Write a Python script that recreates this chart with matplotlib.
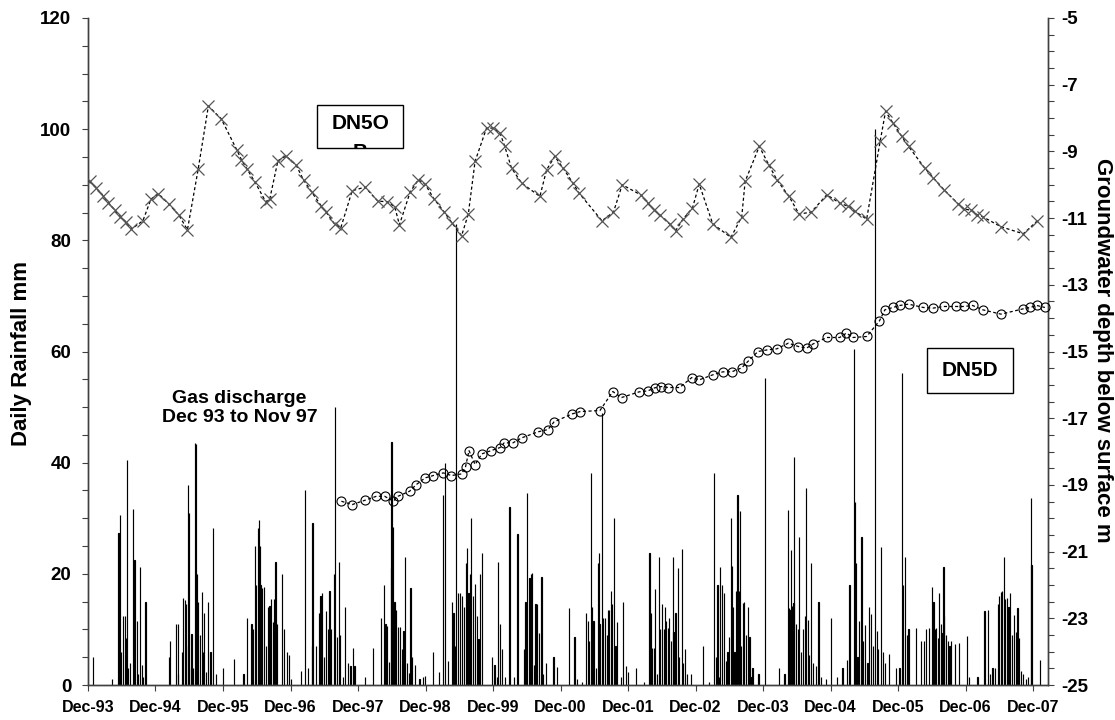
import matplotlib
matplotlib.use("Agg")
import matplotlib.pyplot as plt
from matplotlib.patches import Rectangle
from matplotlib.transforms import Bbox, TransformedBbox
from matplotlib.ticker import MultipleLocator, FixedLocator

plt.rcParams['font.family'] = ['Liberation Sans', 'DejaVu Sans']
plt.rcParams['font.weight'] = 'bold'
plt.rcParams['axes.unicode_minus'] = False

# ---------------- data ----------------
tick_labels = ['Dec-93', 'Dec-94', 'Dec-95', 'Dec-96', 'Dec-97', 'Dec-98', 'Dec-99',
               'Dec-00', 'Dec-01', 'Dec-02', 'Dec-03', 'Dec-04', 'Dec-05', 'Dec-06', 'Dec-07']
depth_ticks = [-25, -23, -21, -19, -17, -15, -13, -11, -9, -7, -5]

# DN5OB groundwater depth (m below surface), x = decimal year
dn5ob_year = [1993.94, 1994.04, 1994.14, 1994.22, 1994.31, 1994.39, 1994.48, 1994.56, 1994.73, 1994.85,
              1994.96, 1995.11, 1995.26, 1995.39, 1995.55, 1995.70, 1995.89, 1996.12, 1996.19, 1996.27,
              1996.39, 1996.55, 1996.61, 1996.73, 1996.85, 1997.00, 1997.11, 1997.23, 1997.37, 1997.44,
              1997.57, 1997.66, 1997.83, 1998.02, 1998.21, 1998.35, 1998.46, 1998.53, 1998.69, 1998.81,
              1998.91, 1999.04, 1999.19, 1999.31, 1999.45, 1999.55, 1999.65, 1999.82, 1999.92, 2000.02,
              2000.09, 2000.19, 2000.34, 2000.61, 2000.71, 2000.83, 2000.95, 2001.10, 2001.19, 2001.53,
              2001.70, 2001.83, 2002.11, 2002.21, 2002.30, 2002.39, 2002.53, 2002.62, 2002.73, 2002.87,
              2002.97, 2003.17, 2003.44, 2003.60, 2003.65, 2003.86, 2004.00, 2004.12, 2004.30, 2004.45,
              2004.63, 2004.86, 2005.05, 2005.18, 2005.28, 2005.45, 2005.65, 2005.73, 2005.84, 2005.97,
              2006.07, 2006.31, 2006.44, 2006.60, 2006.81, 2006.89, 2007.00, 2007.09, 2007.17, 2007.44,
              2007.77, 2007.98]
dn5ob_depth = [-9.90, -10.10, -10.33, -10.54, -10.75, -10.96, -11.11, -11.33, -11.08, -10.43,
               -10.27, -10.57, -10.90, -11.35, -9.52, -7.64, -8.02, -8.95, -9.25, -9.52,
               -9.92, -10.51, -10.42, -9.28, -9.14, -9.41, -9.86, -10.22, -10.63, -10.81,
               -11.18, -11.30, -10.18, -10.07, -10.49, -10.51, -10.66, -11.20, -10.21, -9.85,
               -9.98, -10.42, -10.81, -11.15, -11.53, -10.88, -9.30, -8.30, -8.30, -8.45,
               -8.85, -9.50, -9.95, -10.35, -9.55, -9.15, -9.49, -9.95, -10.25, -11.08,
               -10.82, -10.00, -10.31, -10.55, -10.75, -10.91, -11.17, -11.38, -11.03, -10.70,
               -9.98, -11.17, -11.58, -10.96, -9.90, -8.85, -9.40, -9.85, -10.35, -10.88,
               -10.82, -10.30, -10.55, -10.65, -10.80, -11.03, -8.70, -7.80, -8.15, -8.55,
               -8.85, -9.50, -9.80, -10.16, -10.58, -10.72, -10.77, -10.90, -10.96, -11.26,
               -11.47, -11.08]

# DN5D groundwater depth (m below surface)
dn5d_year = [1997.67, 1997.83, 1998.02, 1998.19, 1998.31, 1998.44, 1998.51, 1998.68, 1998.78, 1998.91,
             1999.03, 1999.18, 1999.30, 1999.45, 1999.51, 1999.56, 1999.65, 1999.75, 1999.89, 2000.02,
             2000.08, 2000.21, 2000.34, 2000.58, 2000.73, 2000.82, 2001.09, 2001.21, 2001.50, 2001.69,
             2001.82, 2002.08, 2002.21, 2002.31, 2002.41, 2002.51, 2002.68, 2002.86, 2002.97, 2003.17,
             2003.32, 2003.45, 2003.60, 2003.70, 2003.84, 2003.98, 2004.12, 2004.29, 2004.44, 2004.56,
             2004.65, 2004.86, 2005.05, 2005.15, 2005.25, 2005.45, 2005.64, 2005.72, 2005.84, 2005.94,
             2006.07, 2006.29, 2006.43, 2006.59, 2006.78, 2006.89, 2007.02, 2007.17, 2007.44, 2007.77,
             2007.87, 2007.97, 2008.09]
dn5d_depth = [-19.49, -19.59, -19.46, -19.34, -19.34, -19.49, -19.34, -19.19, -18.99, -18.79,
              -18.72, -18.64, -18.72, -18.67, -18.45, -17.97, -18.39, -18.07, -17.97, -17.88,
              -17.74, -17.74, -17.59, -17.41, -17.34, -17.11, -16.87, -16.80, -16.77, -16.20,
              -16.38, -16.21, -16.18, -16.09, -16.05, -16.08, -16.08, -15.78, -15.85, -15.70,
              -15.61, -15.61, -15.49, -15.28, -15.00, -14.95, -14.92, -14.75, -14.85, -14.90,
              -14.78, -14.58, -14.58, -14.45, -14.58, -14.55, -14.08, -13.75, -13.68, -13.62,
              -13.58, -13.68, -13.70, -13.65, -13.65, -13.65, -13.62, -13.75, -13.88, -13.72,
              -13.68, -13.62, -13.68]

# Daily rainfall (mm), x = decimal year of the rain day
rain_year = [
    1993.986, 1994.277, 1994.370, 1994.394, 1994.409, 1994.435, 1994.462, 1994.478, 1994.489, 1994.515,
    1994.542, 1994.579, 1994.594, 1994.607, 1994.637, 1994.663, 1994.690, 1994.715, 1994.737, 1994.768,
    1995.112, 1995.134, 1995.217, 1995.246, 1995.256, 1995.308, 1995.324, 1995.351, 1995.371, 1995.394,
    1995.404, 1995.414, 1995.441, 1995.451, 1995.468, 1995.499, 1995.520, 1995.533, 1995.546, 1995.573,
    1995.600, 1995.616, 1995.641, 1995.668, 1995.690, 1995.731, 1995.764, 1995.810, 1995.917, 1996.075,
    1996.219,
    1996.277, 1996.340, 1996.367, 1996.394, 1996.409, 1996.431, 1996.446, 1996.462, 1996.472, 1996.499,
    1996.526, 1996.552, 1996.579, 1996.604, 1996.631, 1996.657, 1996.674, 1996.694, 1996.711, 1996.788,
    1996.826, 1996.869, 1996.896, 1996.921,
    1997.069, 1997.133, 1997.172, 1997.229, 1997.243, 1997.293, 1997.334, 1997.361, 1997.388, 1997.414,
    1997.441, 1997.468, 1997.493, 1997.520, 1997.557, 1997.580, 1997.610, 1997.635, 1997.653, 1997.690,
    1997.727, 1997.769, 1997.806, 1997.838, 1997.863,
    1998.017, 1998.139, 1998.260, 1998.297, 1998.324, 1998.351, 1998.377, 1998.404, 1998.412, 1998.431,
    1998.456, 1998.483, 1998.509, 1998.536, 1998.563, 1998.589, 1998.613, 1998.641, 1998.668, 1998.694,
    1998.721, 1998.758, 1998.826, 1998.880, 1998.906,
    1999.028, 1999.118, 1999.176, 1999.203, 1999.250, 1999.303, 1999.330, 1999.357, 1999.367, 1999.394,
    1999.425, 1999.452, 1999.489, 1999.515, 1999.534, 1999.552, 1999.573, 1999.595, 1999.620, 1999.647,
    1999.674, 1999.700, 1999.727, 1999.751, 1999.900, 1999.937, 1999.974, 1999.995, 2000.017, 2000.044,
    2000.097, 2000.160, 2000.229, 2000.278,
    2000.377, 2000.398, 2000.414, 2000.456, 2000.478, 2000.497, 2000.520, 2000.546, 2000.573, 2000.600,
    2000.634, 2000.653, 2000.705, 2000.812, 2000.863, 2001.044, 2001.123, 2001.160, 2001.229, 2001.297,
    2001.320, 2001.334, 2001.363, 2001.388, 2001.404, 2001.441, 2001.468, 2001.481, 2001.493, 2001.527,
    2001.546, 2001.573, 2001.600, 2001.616, 2001.637, 2001.663, 2001.678, 2001.709, 2001.731, 2001.758,
    2001.812, 2001.838, 2001.890, 2001.917, 2002.038, 2002.155,
    2002.234, 2002.250, 2002.271, 2002.303, 2002.314, 2002.340, 2002.376, 2002.394, 2002.419, 2002.446,
    2002.462, 2002.483, 2002.505, 2002.526, 2002.552, 2002.576, 2002.589, 2002.620, 2002.657, 2002.674,
    2002.714, 2002.727, 2002.764, 2002.789, 2002.843, 2003.028, 2003.118,
    2003.195, 2003.213, 2003.240, 2003.266, 2003.280, 2003.308, 2003.334, 2003.361, 2003.388, 2003.409,
    2003.443, 2003.457, 2003.468, 2003.493, 2003.520, 2003.536, 2003.557, 2003.576, 2003.594, 2003.620,
    2003.637, 2003.663, 2003.690, 2003.715, 2003.731, 2003.758, 2003.849, 2003.946,
    2004.155, 2004.234, 2004.281, 2004.296, 2004.308, 2004.326, 2004.340, 2004.367, 2004.380, 2004.404,
    2004.431, 2004.444, 2004.472, 2004.509, 2004.536, 2004.555, 2004.579, 2004.600, 2004.628, 2004.653,
    2004.694, 2004.737, 2004.774, 2004.853, 2004.923, 2005.012, 2005.092, 2005.160, 2005.197,
    2005.265, 2005.277, 2005.293, 2005.314, 2005.340, 2005.374, 2005.394, 2005.425, 2005.462, 2005.489,
    2005.515, 2005.542, 2005.570, 2005.604, 2005.620, 2005.657, 2005.690, 2005.727, 2005.779, 2005.886,
    2005.937, 2005.976, 2005.991, 2006.017, 2006.044, 2006.071,
    2006.186, 2006.256, 2006.297, 2006.334, 2006.372, 2006.414, 2006.441, 2006.468, 2006.483, 2006.505,
    2006.521, 2006.546, 2006.573, 2006.588, 2006.600, 2006.626, 2006.653, 2006.678, 2006.705, 2006.758,
    2006.812, 2006.933, 2006.970, 2007.092,
    2007.197, 2007.250, 2007.277, 2007.314, 2007.351, 2007.394, 2007.409, 2007.435, 2007.456, 2007.481,
    2007.499, 2007.526, 2007.552, 2007.579, 2007.604, 2007.631, 2007.657, 2007.684, 2007.711, 2007.737,
    2007.764, 2007.816, 2007.843, 2007.881, 2007.892, 2008.017,
]
rain_mm = [
    5, 1, 27.3, 30.6, 6, 12.5, 12.5, 8.5, 40.5, 3,
    4, 31.7, 10.7, 22.5, 11.5, 2, 21.2, 3.6, 1.5, 15,
    5, 8, 11, 11, 2, 6, 15.7, 15.3, 14.5, 7,
    36, 31, 3, 9.2, 3, 43.5, 43.3, 20, 15, 9,
    16.8, 6, 13, 2.4, 15, 6, 28.2, 2, 3, 4.6,
    2,
    12, 11, 10, 25, 18, 28.3, 29.6, 25, 18, 17.5,
    17.7, 7, 14, 14.2, 15.5, 11.4, 15.5, 22.2, 11, 20,
    10, 6, 5.4, 1,
    2.5, 35.1, 3, 7, 29.2, 7, 13, 16, 16.5, 5,
    13.3, 10, 17, 10, 20, 50, 8.6, 22.2, 9, 1.5,
    14, 4, 3.5, 6.6, 3.5,
    1.5, 6.6, 12, 18, 11, 10.6, 4.2, 21, 43.8, 28.5,
    15, 13.5, 10.5, 10.5, 6.5, 9.7, 23.1, 4, 2.1, 17.5,
    5, 3.6, 1, 1.5, 1.7,
    6, 2.4, 34.1, 40, 4.3, 15, 13, 7, 83, 16.5,
    16.5, 16, 14, 22, 24.6, 16.5, 20, 30, 16, 18.2,
    12.4, 8.3, 20, 23.7, 5, 3.6, 1.5, 22.2, 10.9, 6.5,
    1.5, 32.1, 1.5, 27.2,
    6.5, 15, 34.5, 19.2, 20, 20.1, 3.6, 14.5, 14.5, 9.4,
    19.5, 2, 4, 5, 3.3, 13.8, 8.6, 1, 0.5, 13,
    11.5, 8, 38.1, 14, 11.5, 3, 22, 23.7, 11, 49,
    12, 12, 9, 13.5, 13.5, 17, 14.5, 30, 7, 11.4,
    1.5, 15, 3.5, 2.3, 3, 0.6,
    23.7, 13, 6.7, 6.7, 17.3, 2, 23.1, 10, 14.5, 10,
    14.1, 11.6, 10.2, 12, 8, 23.1, 9.5, 13, 21, 5,
    24.5, 4, 6.5, 2, 2, 7, 0.5,
    38.1, 5, 18, 1.5, 21.2, 18, 16.5, 4.4, 6, 8.7,
    30, 21.5, 14, 6, 17, 34.1, 17, 31.3, 7, 14.8,
    15, 9, 14, 8.7, 1.5, 3, 2, 55.3,
    3, 2, 31.5, 13.8, 13.5, 24.2, 14.3, 14.7, 41.1, 11,
    10, 26.7, 6, 10, 12.5, 35.4, 11.7, 5.4, 21.9, 4,
    3.5, 15, 1.5, 1, 12, 1.5, 3, 4.5, 18,
    60.4, 33, 22, 5, 11.5, 26.7, 8, 10.8, 4, 14,
    12.7, 7, 100, 9.8, 6.5, 24.9, 6, 4, 5.5, 3,
    3, 56.2, 18, 23.1, 9, 10,
    10.3, 8, 8, 10, 10.2, 17.7, 15, 10, 10.2, 8.5,
    16.5, 11, 9.3, 21.3, 12.4, 9, 8, 7, 8, 7.3,
    7.5, 8.8, 1.5, 1.5,
    13.3, 13.5, 2, 3, 3, 14.5, 16, 16.8, 17, 23.1,
    15.5, 15.7, 14, 16.6, 9, 12.6, 9.5, 13.9, 8.5, 2.5,
    2, 1, 1.5, 33.6, 21.6, 4.5,
]

# ---------------- figure ----------------
fig = plt.figure(figsize=(11.15, 7.2), dpi=100)
fig.patch.set_facecolor('white')
ax = fig.add_axes([0.0789, 0.0486, 0.861, 0.9264])

ax.bar(rain_year, rain_mm, width=1 / 365.25, color='black', edgecolor='black',
       linewidth=0.85, align='center', zorder=2)

tick_pos = [1993 + 11 / 12 + i for i in range(len(tick_labels))]
ax.set_xlim(1993 + 11 / 12, 2008.136)
ax.set_ylim(0, 120)
ax.set_xticks(tick_pos)
ax.set_xticklabels(tick_labels, fontsize=11.5, fontweight='bold')
ax.yaxis.set_major_locator(MultipleLocator(20))
ax.yaxis.set_minor_locator(MultipleLocator(5))
ax.tick_params(axis='y', which='both', direction='out', length=4, width=0.8,
               color='#404040', pad=8, labelsize=13.5)
ax.tick_params(axis='x', which='both', direction='out', length=4, width=0.8,
               color='#404040', pad=7)
for lbl in ax.get_yticklabels():
    lbl.set_fontweight('bold')

ax2 = ax.twinx()
ax2.set_ylim(-25, -5)
ax2.yaxis.set_major_locator(FixedLocator(depth_ticks))
ax2.yaxis.set_minor_locator(MultipleLocator(0.5))
ax2.tick_params(axis='y', which='both', direction='out', length=4, width=0.8,
                color='#404040', pad=5.5, labelsize=13.5)
for lbl in ax2.get_yticklabels():
    lbl.set_fontweight('bold')

for a in (ax, ax2):
    a.spines['top'].set_visible(False)
    for s in ('left', 'right', 'bottom'):
        a.spines[s].set_color('#404040')
        a.spines[s].set_linewidth(1.0)

ax2.plot(dn5ob_year, dn5ob_depth, linestyle=(0, (2.5, 2)), color='black', lw=0.9,
         marker='x', markersize=9, markeredgecolor='#555555', markeredgewidth=0.9, zorder=3)
ax2.plot(dn5d_year, dn5d_depth, linestyle=(0, (2.5, 2)), color='black', lw=0.9,
         marker='o', markersize=6.5, markerfacecolor='none', markeredgecolor='black',
         markeredgewidth=0.8, zorder=3, clip_on=False)

# annotation text
ax2.text(0.158, 0.416, 'Gas discharge\nDec 93 to Nov 97', transform=ax2.transAxes,
         ha='center', va='center', fontsize=14, fontweight='bold', linespacing=1.15, zorder=6)

# DN5O box (text wraps, second line clipped)
b_x0, b_y0, b_w, b_h = 0.2389, 0.8046, 0.0895, 0.065
rect1 = Rectangle((b_x0, b_y0), b_w, b_h, transform=ax2.transAxes, facecolor='white',
                  edgecolor='black', linewidth=1.0, zorder=7)
ax2.add_patch(rect1)
ax2.text(b_x0 + b_w / 2, 0.8331, 'DN5O', transform=ax2.transAxes, ha='center', va='baseline',
         fontsize=15, fontweight='bold', zorder=8)
tB = ax2.text(b_x0 + b_w / 2, 0.7906, 'B', transform=ax2.transAxes, ha='center', va='baseline',
              fontsize=15, fontweight='bold', zorder=8)
tB.set_clip_on(True)
tB.set_clip_box(TransformedBbox(Bbox([[b_x0, b_y0], [b_x0 + b_w, b_y0 + b_h]]), ax2.transAxes))

# DN5D box
d_x0, d_y0, d_w, d_h = 0.8743, 0.4373, 0.0896, 0.0684
rect2 = Rectangle((d_x0, d_y0), d_w, d_h, transform=ax2.transAxes, facecolor='white',
                  edgecolor='black', linewidth=1.0, zorder=7)
ax2.add_patch(rect2)
ax2.text(d_x0 + d_w / 2, d_y0 + d_h / 2, 'DN5D', transform=ax2.transAxes, ha='center',
         va='center', fontsize=15, fontweight='bold', zorder=8)

# axis titles
fig.text(22 / 1115, 1 - 353 / 720, 'Daily Rainfall mm', rotation=90, ha='center', va='center',
         fontsize=16, fontweight='bold')
fig.text(1102 / 1115, 1 - 350 / 720, 'Groundwater depth below surface m', rotation=270,
         ha='center', va='center', fontsize=16, fontweight='bold')

fig.savefig('out.png', dpi=100, facecolor='white')
